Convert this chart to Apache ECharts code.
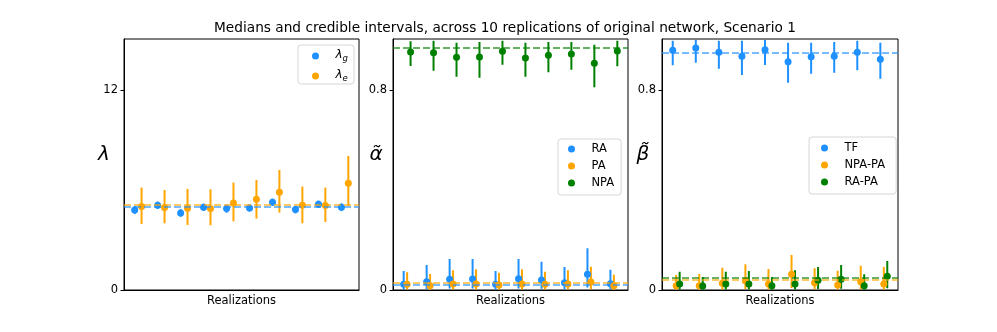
<!DOCTYPE html>
<html><head><meta charset="utf-8">
<script src="https://cdn.jsdelivr.net/npm/echarts@6/dist/echarts.min.js"></script>
<style>html,body{margin:0;padding:0;background:#fff}#c{width:997px;height:332px}</style>
</head><body><div id="c"></div>
<script>
// ---------- data ----------
const replications = [1, 2, 3, 4, 5, 6, 7, 8, 9, 10];
const titleText = 'Medians and credible intervals, across 10 replications of original network, Scenario 1';
const xLabel = 'Realizations';

// Panel 1: lambda
const lamG_med = [4.8, 5.08, 4.62, 4.96, 4.88, 4.92, 5.26, 4.82, 5.14, 4.96];
const lamG_lo  = [4.56, 4.86, 4.39, 4.74, 4.63, 4.70, 5.04, 4.59, 4.92, 4.73];
const lamG_hi  = [5.04, 5.30, 4.85, 5.18, 5.13, 5.14, 5.48, 5.05, 5.36, 5.20];
const lamE_med = [5.0, 4.94, 4.9, 4.88, 5.22, 5.44, 5.86, 5.08, 5.06, 6.4];
const lamE_lo  = [3.96, 4.0, 3.9, 3.88, 4.12, 4.28, 4.64, 4.0, 4.08, 5.04];
const lamE_hi  = [6.14, 6.0, 6.06, 6.04, 6.44, 6.6, 7.2, 6.2, 6.14, 8.04];
const lamG_true = 5.0, lamE_true = 5.14;
const lamTicks = [0, 12];

// Panel 2: alpha
const RA_med = [0.023, 0.033, 0.043, 0.044, 0.023, 0.045, 0.040, 0.029, 0.063, 0.025];
const RA_lo  = [0.002, 0.004, 0.006, 0.006, 0.002, 0.006, 0.005, 0.003, 0.010, 0.003];
const RA_hi  = [0.076, 0.100, 0.124, 0.124, 0.076, 0.124, 0.113, 0.092, 0.167, 0.081];
const PA_med = [0.023, 0.017, 0.024, 0.024, 0.020, 0.024, 0.023, 0.024, 0.032, 0.017];
const PA_lo  = [0.002, 0.001, 0.002, 0.002, 0.002, 0.002, 0.002, 0.002, 0.003, 0.001];
const PA_hi  = [0.071, 0.064, 0.079, 0.083, 0.069, 0.083, 0.073, 0.079, 0.093, 0.061];
const NPA_med = [0.952, 0.949, 0.931, 0.932, 0.955, 0.928, 0.939, 0.944, 0.907, 0.956];
const NPA_lo  = [0.896, 0.877, 0.853, 0.849, 0.901, 0.853, 0.871, 0.881, 0.811, 0.895];
const NPA_hi  = [0.995, 0.997, 0.989, 0.992, 0.997, 0.989, 0.992, 0.992, 0.981, 0.997];
const RA_true = 0.024, PA_true = 0.033, NPA_true = 0.973;

// Panel 3: beta
const TF_med = [0.959, 0.968, 0.951, 0.935, 0.961, 0.913, 0.933, 0.935, 0.951, 0.923];
const TF_lo  = [0.899, 0.909, 0.885, 0.860, 0.900, 0.829, 0.865, 0.869, 0.879, 0.845];
const TF_hi  = [0.997, 1.000, 0.997, 0.997, 1.000, 0.989, 0.989, 0.992, 0.997, 0.989];
const NPAPA_med = [0.017, 0.017, 0.027, 0.037, 0.024, 0.063, 0.029, 0.020, 0.033, 0.024];
const NPAPA_lo  = [0.001, 0.001, 0.002, 0.004, 0.002, 0.008, 0.003, 0.002, 0.003, 0.002];
const NPAPA_hi  = [0.060, 0.064, 0.089, 0.103, 0.084, 0.140, 0.087, 0.077, 0.097, 0.092];
const RAPA_med = [0.024, 0.016, 0.024, 0.024, 0.017, 0.024, 0.039, 0.043, 0.017, 0.055];
const RAPA_lo  = [0.002, 0.001, 0.002, 0.002, 0.001, 0.002, 0.004, 0.005, 0.001, 0.007];
const RAPA_hi  = [0.073, 0.052, 0.073, 0.076, 0.052, 0.079, 0.092, 0.100, 0.063, 0.116];
const TF_true = 0.953, NPAPA_true = 0.035, RAPA_true = 0.047;
const fracTicks = [0, 0.8];

// ---------- styling ----------
const BLUE = '#1E90FF', ORANGE = '#FFA500', GREEN = '#008000';
const BLUE_L = 'rgba(30,144,255,0.6)', ORANGE_L = 'rgba(255,165,0,0.6)', GREEN_L = 'rgba(0,128,0,0.6)';
const FONT = 'DejaVu Sans';

const grids = [
  {left: 124, top: 39, width: 235, height: 251},
  {left: 393, top: 39, width: 235, height: 251},
  {left: 662, top: 39, width: 236, height: 251}
].map(g => Object.assign({show: true, borderColor: '#000', borderWidth: 1, containLabel: false}, g));

const xAxes = [0, 1, 2].map(i => ({
  type: 'value', gridIndex: i, min: 0.535, max: 10.765,
  axisLine: {show: true, onZero: false, lineStyle: {color: '#000', width: 1}},
  axisTick: {show: false}, axisLabel: {show: false}, splitLine: {show: false},
  name: xLabel, nameLocation: 'middle', nameGap: 5,
  nameTextStyle: {fontFamily: FONT, fontSize: 11.5, color: '#000', verticalAlign: 'top'}
}));

function yAxis(i, max, ticks) {
  return {
    type: 'value', gridIndex: i, min: 0, max: max,
    axisLine: {show: true, lineStyle: {color: '#000', width: 1}},
    axisTick: {show: true, length: 3.5, inside: false, customValues: ticks, lineStyle: {color: '#000', width: 1}},
    axisLabel: {show: true, customValues: ticks, margin: 6, fontFamily: FONT, fontSize: 11.5, color: '#000'},
    splitLine: {show: false}
  };
}
const yAxes = [yAxis(0, 15.05, lamTicks), yAxis(1, 1.004, fracTicks), yAxis(2, 1.004, fracTicks)];

const series = [];
function addGroup(name, gi, offset, med, lo, hi, color, lineColor, trueVal) {
  const errData = replications.map((r, k) => [r + offset, lo[k], hi[k]]);
  const ptData = replications.map((r, k) => [r + offset, med[k]]);
  series.push({
    type: 'custom', name: name + ' (CI)', xAxisIndex: gi, yAxisIndex: gi, clip: true,
    data: errData, encode: {x: 0, y: [1, 2]}, silent: true,
    renderItem: (params, api) => {
      const p1 = api.coord([api.value(0), api.value(1)]);
      const p2 = api.coord([api.value(0), api.value(2)]);
      return {type: 'line', shape: {x1: p1[0], y1: p1[1], x2: p2[0], y2: p2[1]},
              style: {stroke: color, lineWidth: 2}};
    }
  });
  series.push({
    type: 'scatter', name: name, xAxisIndex: gi, yAxisIndex: gi, data: ptData,
    symbol: 'circle', symbolSize: 7, itemStyle: {color: color, opacity: 1}, silent: true,
    markLine: {silent: true, symbol: 'none', label: {show: false},
      lineStyle: {color: lineColor, width: 2, type: [7, 3]},
      emphasis: {disabled: true},
      data: [{yAxis: trueVal}]}
  });
}
addGroup('λg', 0, 0, lamG_med, lamG_lo, lamG_hi, BLUE, BLUE_L, lamG_true);
addGroup('λe', 0, 0.3, lamE_med, lamE_lo, lamE_hi, ORANGE, ORANGE_L, lamE_true);
addGroup('RA', 1, 0, RA_med, RA_lo, RA_hi, BLUE, BLUE_L, RA_true);
addGroup('PA', 1, 0.15, PA_med, PA_lo, PA_hi, ORANGE, ORANGE_L, PA_true);
addGroup('NPA', 1, 0.3, NPA_med, NPA_lo, NPA_hi, GREEN, GREEN_L, NPA_true);
addGroup('TF', 2, 0, TF_med, TF_lo, TF_hi, BLUE, BLUE_L, TF_true);
addGroup('NPA-PA', 2, 0.15, NPAPA_med, NPAPA_lo, NPAPA_hi, ORANGE, ORANGE_L, NPAPA_true);
addGroup('RA-PA', 2, 0.3, RAPA_med, RAPA_lo, RAPA_hi, GREEN, GREEN_L, RAPA_true);

const legendBase = {
  orient: 'vertical', icon: 'circle', itemWidth: 30, itemHeight: 7,
  borderColor: '#d6d6d6', borderWidth: 1, borderRadius: 3,
  backgroundColor: 'rgba(255,255,255,0.8)', selectedMode: false,
  itemStyle: {opacity: 1},
  textStyle: {fontFamily: FONT, fontSize: 11.5, color: '#000'}
};
const legends = [
  Object.assign({}, legendBase, {
    data: ['λg', 'λe'], left: 298, top: 45, itemGap: 4, padding: [2, 6, 1, 14],
    formatter: n => '{i|λ}{s|' + n.slice(1) + '}',
    textStyle: {fontFamily: FONT, fontSize: 11, color: '#000',
      rich: {
        i: {fontFamily: FONT, fontStyle: 'italic', fontSize: 12, lineHeight: 14, verticalAlign: 'top', color: '#000'},
        s: {fontFamily: FONT, fontStyle: 'italic', fontSize: 8.5, lineHeight: 9, padding: [7, 0, 0, 0], verticalAlign: 'bottom', color: '#000'}
      }}
  }),
  Object.assign({}, legendBase, {
    data: ['RA', 'PA', 'NPA'], left: 558, top: 139, itemGap: 5, padding: [4, 7, 6, 10]
  }),
  Object.assign({}, legendBase, {
    data: ['TF', 'NPA-PA', 'RA-PA'], left: 809, top: 137, itemGap: 5, padding: [5, 11, 6, 12]
  })
];

const option = {
  animation: false,
  backgroundColor: '#fff',
  grid: grids, xAxis: xAxes, yAxis: yAxes, series: series, legend: legends,
  graphic: [
    {type: 'text', x: 505, y: 28, style: {text: titleText, font: '13.7px "DejaVu Sans"', fill: '#000', textAlign: 'center', textVerticalAlign: 'middle'}},
    {type: 'text', x: 104, y: 155, style: {text: 'λ', font: 'italic 20px "DejaVu Sans"', fill: '#000', textAlign: 'center', textVerticalAlign: 'middle'}},
    {type: 'text', x: 376, y: 155, style: {text: 'α\u0303', font: 'italic 20px "DejaVu Sans"', fill: '#000', textAlign: 'center', textVerticalAlign: 'middle'}},
    {type: 'text', x: 643, y: 155, style: {text: 'β\u0303', font: 'italic 20px "DejaVu Sans"', fill: '#000', textAlign: 'center', textVerticalAlign: 'middle'}}
  ]
};
const chart = echarts.init(document.getElementById('c'), null, {renderer: 'canvas'});
chart.setOption(option);
</script></body></html>
